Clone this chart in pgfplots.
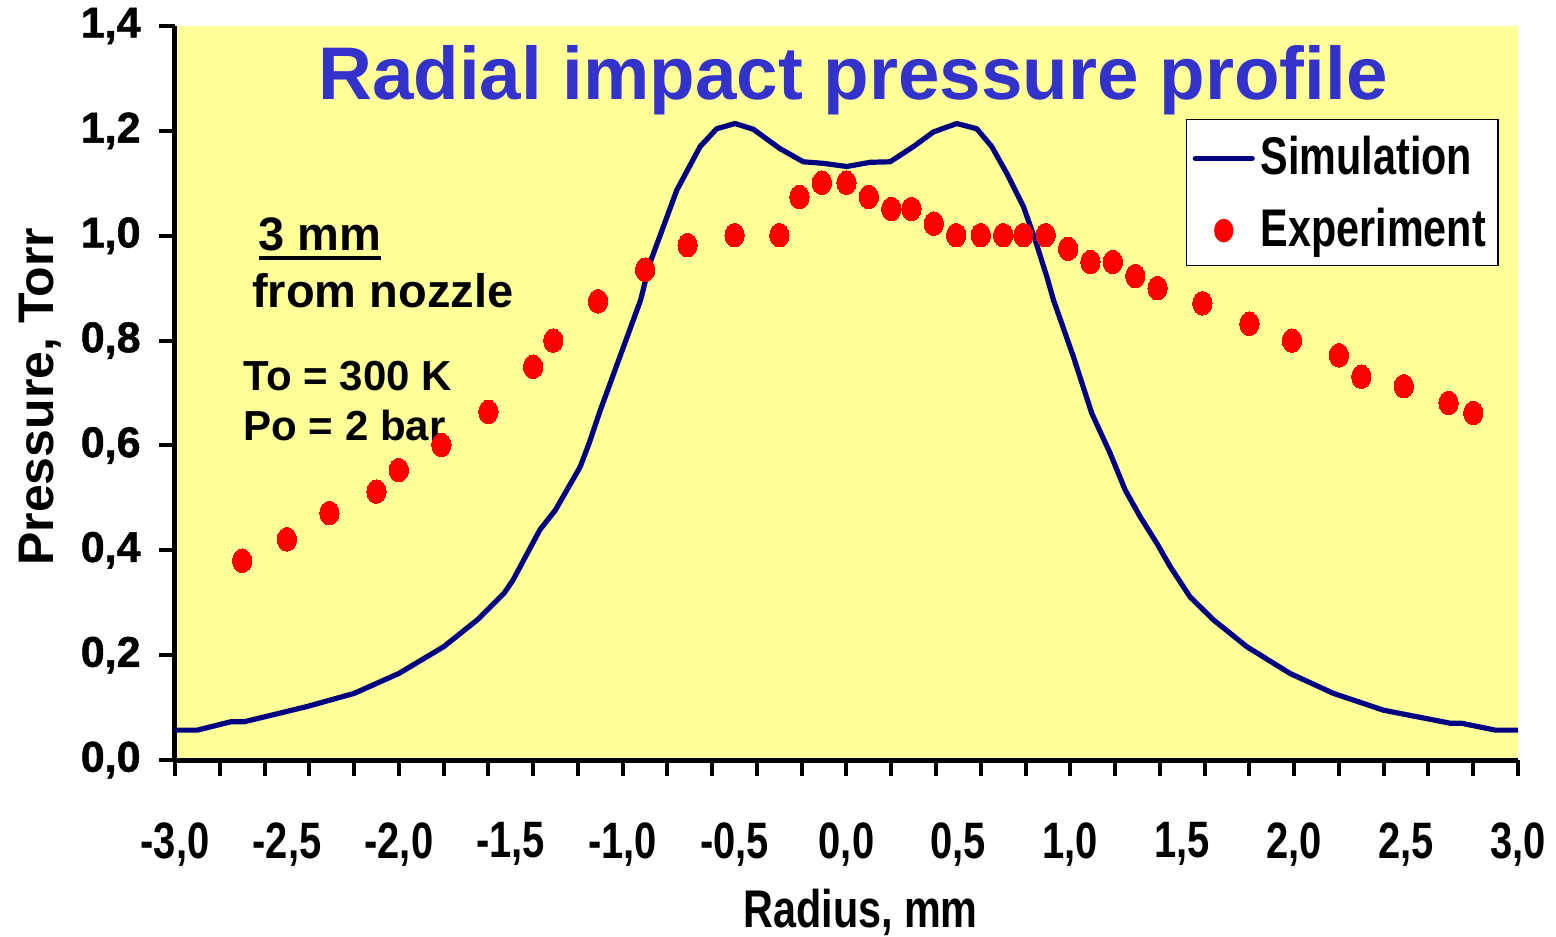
\documentclass[border=0pt]{standalone}
\usepackage{fontspec}
\setmainfont{Liberation Sans}
\newfontfamily\condfont[FakeStretch=0.78]{Liberation Sans}
\newfontfamily\heavyfont[FakeBold=1.2]{Liberation Sans}
\usepackage{pgfplots}
\pgfplotsset{compat=1.18}

\definecolor{plotbg}{HTML}{FFFF99}
\definecolor{titleblue}{HTML}{3333CC}
\definecolor{simnavy}{HTML}{000080}
\definecolor{expred}{HTML}{FF0000}

% simulated radial impact pressure (mm, Torr)
\pgfplotstableread{
x y
-3.00 0.057
-2.90 0.057
-2.75 0.073
-2.69 0.073
-2.41 0.102
-2.20 0.127
-2.00 0.165
-1.80 0.216
-1.65 0.267
-1.53 0.318
-1.49 0.343
-1.37 0.439
-1.30 0.477
-1.19 0.559
-1.15 0.604
-1.10 0.667
-1.01 0.772
-0.92 0.877
-0.878 0.948
-0.758 1.087
-0.654 1.170
-0.580 1.204
-0.498 1.214
-0.416 1.203
-0.297 1.166
-0.193 1.141
-0.103 1.138
0.001 1.132
0.105 1.140
0.195 1.141
0.299 1.170
0.389 1.198
0.493 1.214
0.582 1.204
0.649 1.170
0.716 1.119
0.791 1.055
0.843 0.992
0.895 0.922
0.925 0.877
1.014 0.769
1.096 0.661
1.178 0.585
1.245 0.515
1.312 0.464
1.387 0.413
1.446 0.369
1.535 0.311
1.640 0.267
1.789 0.216
1.982 0.165
2.176 0.127
2.399 0.095
2.699 0.070
2.749 0.070
2.898 0.057
3.000 0.057
}\simtable

% measured impact pressure (mm, Torr)
\pgfplotstableread{
x y
-2.70 0.380
-2.50 0.421
-2.31 0.471
-2.10 0.512
-2.00 0.553
-1.81 0.601
-1.60 0.664
-1.40 0.750
-1.31 0.800
-1.11 0.875
-0.90 0.935
-0.71 0.982
-0.50 1.001
-0.30 1.001
-0.21 1.074
-0.11 1.101
0.00 1.101
0.10 1.074
0.20 1.051
0.29 1.051
0.39 1.023
0.49 1.001
0.60 1.001
0.70 1.001
0.79 1.001
0.89 1.001
0.99 0.975
1.09 0.950
1.19 0.950
1.29 0.923
1.39 0.900
1.59 0.871
1.80 0.832
1.99 0.800
2.20 0.772
2.30 0.731
2.49 0.713
2.69 0.681
2.80 0.662
}\exptable

\newcommand{\thickul}[1]{\setbox0\hbox{#1}\rlap{\rule[-5bp]{\wd0}{2bp}}\box0}

\begin{document}
\begin{tikzpicture}
\useasboundingbox (-87.5bp,-88.5bp) rectangle (690.5bp,380bp);
\begin{axis}[
  at={(0,0)}, anchor=south west,
  scale only axis, width=671.5bp, height=367bp,
  xmin=-3, xmax=3, ymin=0, ymax=1.4,
  clip=false,
  axis background/.style={fill=plotbg},
  axis lines*=left,
  axis line style={line width=2.5bp, black},
  tick align=outside,
  major tick length=8bp,
  tick style={line width=2bp, black},
  xtick={-3,-2.8,-2.6,-2.4,-2.2,-2,-1.8,-1.6,-1.4,-1.2,-1,-0.8,-0.6,-0.4,-0.2,0,
         0.2,0.4,0.6,0.8,1,1.2,1.4,1.6,1.8,2,2.2,2.4,2.6,2.8,3},
  xticklabels={},
  extra x ticks={-3,-2.5,-2,-1.5,-1,-0.5,0,0.5,1,1.5,2,2.5,3},
  extra x tick labels={{-3,0},{-2,5},{-2,0},{-1,5},{-1,0},{-0,5},{0,0},{0,5},{1,0},{1,5},{2,0},{2,5},{3,0}},
  extra x tick style={
    major tick length=0pt, tick style={draw=none},
    xticklabel style={anchor=north, inner sep=0pt, yshift=-31bp,
      font=\condfont\bfseries\fontsize{25.6bp}{28bp}\selectfont}},
  ytick={0,0.2,0.4,0.6,0.8,1,1.2,1.4},
  yticklabels={{0,0},{0,2},{0,4},{0,6},{0,8},{1,0},{1,2},{1,4}},
  yticklabel style={anchor=east, inner sep=0pt, xshift=-9bp,
    font=\heavyfont\bfseries\fontsize{21.5bp}{24bp}\selectfont},
  xlabel={Radius, mm},
  xlabel style={at={(axis description cs:0.5105,0)}, anchor=base, yshift=-83.5bp,
    font=\condfont\bfseries\fontsize{26.5bp}{30bp}\selectfont},
  ylabel={Pressure, Torr},
  ylabel style={at={(axis description cs:-0.0905,0.495)}, anchor=base, rotate=0,
    font=\bfseries\fontsize{25bp}{28bp}\selectfont},
  legend style={at={(axis cs:1.517,1.2226)}, anchor=north west,
    draw=black, line width=0.6bp, fill=white,
    font=\condfont\bfseries\fontsize{26.5bp}{30bp}\selectfont,
    inner xsep=3bp, inner ysep=3bp, row sep=5bp,
    nodes={inner sep=3bp, text height=21.5bp, text depth=3.5bp}},
  legend cell align=left,
]
\addplot[color=simnavy, line width=2.6bp, line join=round,
  legend image code/.code={\draw[simnavy, line width=2.6bp, line cap=round] (0bp,-1bp) -- (28.5bp,-1bp);}]
  table[x=x, y=y] {\simtable};
\addlegendentry{Simulation}
\addplot[color=expred, only marks, mark=*, mark size=5.9bp,
  mark options={fill=expred, draw=expred, line width=0pt, xscale=0.82},
  legend image code/.code={\path[draw=none] (0bp,0bp) -- (28.5bp,0bp);
    \fill[expred, draw=none] (14.25bp,-1bp) ellipse [x radius=4.84bp, y radius=5.9bp];}]
  table[x=x, y=y] {\exptable};
\addlegendentry{Experiment}

\node[anchor=base west, text=titleblue, inner sep=0pt,
  font=\bfseries\fontsize{37.3bp}{40bp}\selectfont]
  at (axis cs:-2.362,1.260) {Radial impact pressure profile};
\node[anchor=base west, inner sep=0pt, font=\bfseries\fontsize{23.5bp}{26bp}\selectfont]
  at (axis cs:-2.628,0.9727) {\thickul{3 mm}};
\node[anchor=base west, inner sep=0pt, font=\bfseries\fontsize{23.5bp}{26bp}\selectfont]
  at (axis cs:-2.657,0.864) {from nozzle};
\node[anchor=base west, inner sep=0pt, font=\bfseries\fontsize{21bp}{24bp}\selectfont]
  at (axis cs:-2.695,0.7057) {To = 300 K};
\node[anchor=base west, inner sep=0pt, font=\bfseries\fontsize{21bp}{24bp}\selectfont]
  at (axis cs:-2.695,0.6103) {Po = 2 bar};
\end{axis}
\end{tikzpicture}
\end{document}
